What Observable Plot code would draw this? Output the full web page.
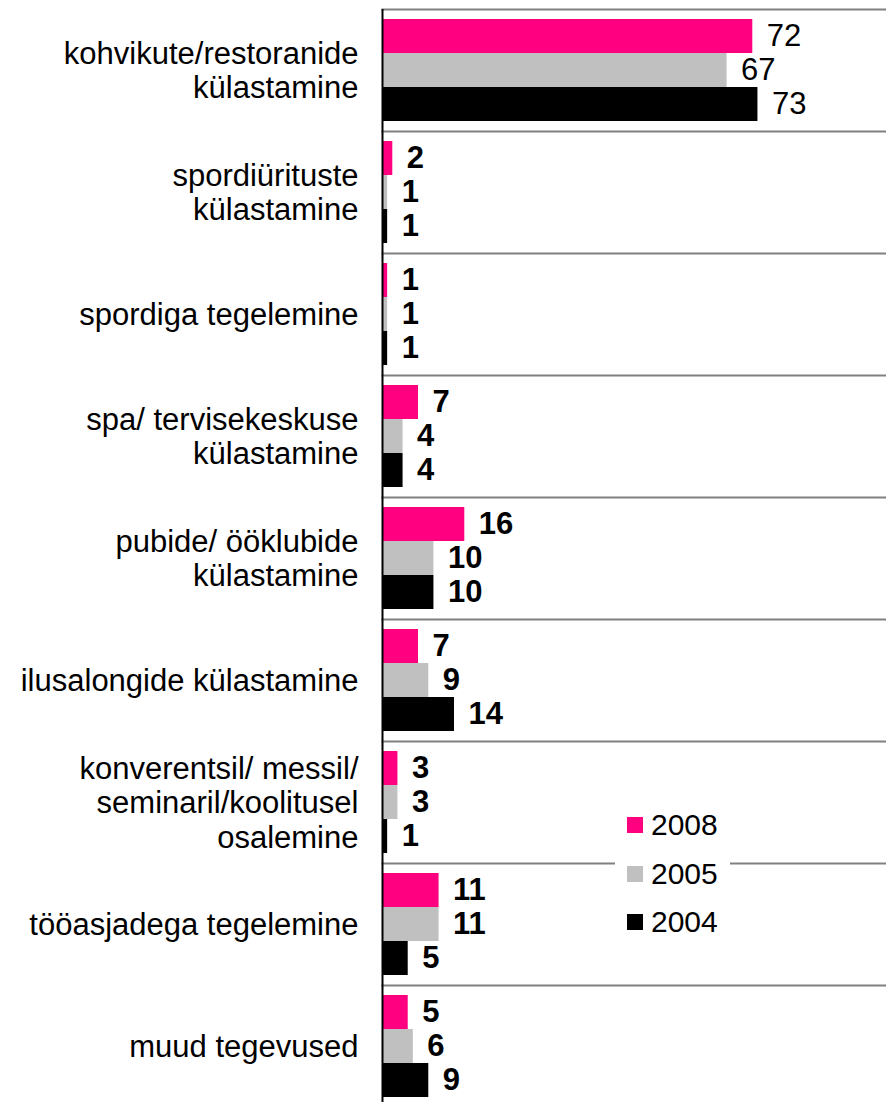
<!DOCTYPE html>
<html><head><meta charset="utf-8">
<script src="https://cdn.jsdelivr.net/npm/d3@7"></script>
<script src="https://cdn.jsdelivr.net/npm/@observablehq/plot@0.6"></script>
<style>
body{margin:0;background:#fff;font-family:"Liberation Sans",Arial,sans-serif;}
#wrap{position:relative;width:886px;height:1102px;overflow:hidden;}
#legend{position:absolute;left:615px;top:800px;width:115px;height:150px;background:#fff;}
.item{position:absolute;left:12px;height:30px;display:flex;align-items:center;font-size:30px;line-height:30px;color:#000;}
.sw{width:16px;height:16px;margin-right:8px;}
</style></head><body><div id="wrap"></div>
<script>
const categories = [
  "kohvikute/restoranide\nkülastamine",
  "spordiürituste\nkülastamine",
  "spordiga tegelemine",
  "spa/ tervisekeskuse\nkülastamine",
  "pubide/ ööklubide\nkülastamine",
  "ilusalongide külastamine",
  "konverentsil/ messil/\nseminaril/koolitusel\nosalemine",
  "tööasjadega tegelemine",
  "muud tegevused"
];
const years = ["2008", "2005", "2004"];
const colors = ["#FF0080", "#C0C0C0", "#000000"];
const v2008 = [72, 2, 1, 7, 16, 7, 3, 11, 5];
const v2005 = [67, 1, 1, 4, 10, 9, 3, 11, 6];
const v2004 = [73, 1, 1, 4, 10, 14, 1, 5, 9];

const series = [v2008, v2005, v2004];
const data = [];
categories.forEach((c, i) => {
  series.forEach((arr, j) => data.push({category: c, year: years[j], value: arr[i]}));
});

const textOpts = {x: "value", y: "year", fy: "category", text: d => String(d.value),
  textAnchor: "start", dx: 14, fontSize: 31, fill: "#000"};

const chart = Plot.plot({
  width: 886, height: 1102,
  marginLeft: 382, marginRight: 0, marginTop: 7, marginBottom: -7,
  style: {fontFamily: "'Liberation Sans', Arial, sans-serif", fontSize: "31px", color: "#000", background: "#fff"},
  x: {domain: [0, 98], axis: null},
  y: {domain: years, axis: null, paddingInner: 0, paddingOuter: 0.25},
  fy: {domain: categories, padding: 0, label: null},
  color: {domain: years, range: colors},
  marks: [
    Plot.frame({anchor: "top", stroke: "#808080", strokeWidth: 2}),
    Plot.barX(data, {x: "value", y: "year", fy: "category", fill: "year"}),
    Plot.text(data.filter(d => d.category === categories[0]), textOpts),
    Plot.text(data.filter(d => d.category !== categories[0]), {...textOpts, fontWeight: "bold"}),
    Plot.ruleX([0], {stroke: "#000", strokeWidth: 2}),
    Plot.axisFy({anchor: "left", tickSize: 0, tickPadding: 24, fontSize: 31, lineHeight: 1.1, label: null})
  ]
});
const wrap = document.getElementById("wrap");
wrap.appendChild(chart);

const legend = document.createElement("div");
legend.id = "legend";
years.forEach((y, i) => {
  const it = document.createElement("div");
  it.className = "item";
  it.style.top = (10 + i * 48.5) + "px";
  it.innerHTML = `<span class="sw" style="background:${colors[i]}"></span><span>${y}</span>`;
  legend.appendChild(it);
});
wrap.appendChild(legend);
</script>
</body></html>
